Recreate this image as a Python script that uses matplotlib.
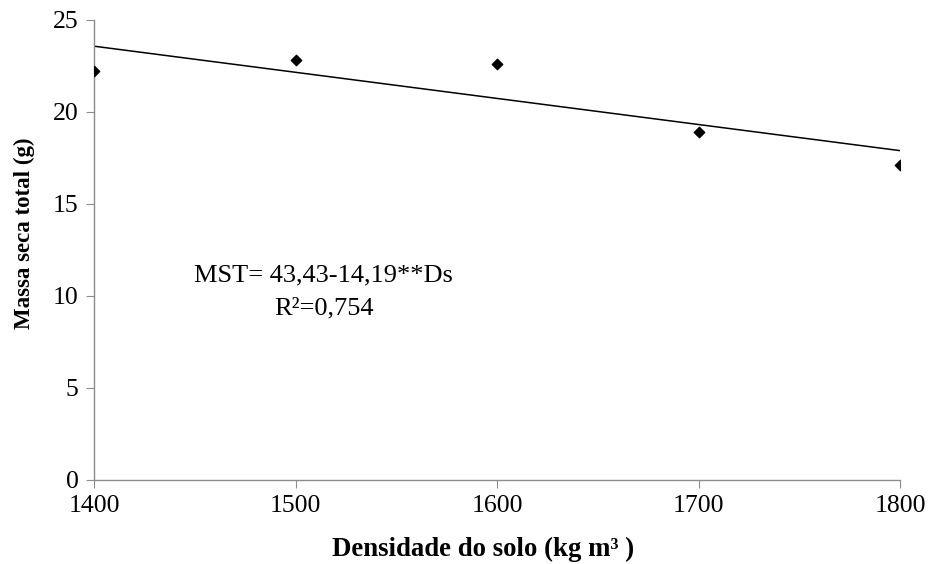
import numpy as np
import matplotlib
matplotlib.use("Agg")
import matplotlib.pyplot as plt

plt.rcParams["font.family"] = ["Liberation Serif", "DejaVu Serif"]

densidade = [1400, 1500, 1600, 1700, 1800]
massa_seca = [22.2, 22.8, 22.6, 18.9, 17.1]

# MST = 43,43 - 14,19 * Ds  (Ds in g cm-3)
intercept = 43.43
slope = -14.19

fig = plt.figure(figsize=(9.3, 5.64), dpi=100)
ax = fig.add_axes([0.101, 0.149, 0.867, 0.816])

xs = np.array([densidade[0], densidade[-1]])
ax.plot(xs, intercept + slope * xs / 1000.0, color="black", linewidth=1.1)

ax.scatter(densidade, massa_seca, marker="D", s=28, color="black", zorder=3)

ax.set_xlim(1400, 1800)
ax.set_ylim(0, 25)
ax.set_xticks([1400, 1500, 1600, 1700, 1800])
ax.set_yticks([0, 5, 10, 15, 20, 25])

for side in ["top", "right"]:
    ax.spines[side].set_visible(False)
for side in ["left", "bottom"]:
    ax.spines[side].set_color("#8c8c8c")
    ax.spines[side].set_linewidth(1.0)

ax.tick_params(axis="both", direction="out", length=6, color="#8c8c8c",
               labelsize=18.5, pad=5)

ax.set_xlabel("Densidade do solo (kg m³ )", fontsize=19.3, fontweight="bold")
ax.xaxis.set_label_coords(0.483, -0.124)
ax.set_ylabel("Massa seca total (g)", fontsize=16.5, fontweight="bold")
ax.yaxis.set_label_coords(-0.073, 0.535)

ax.text(1514, 11.1, "MST= 43,43-14,19**Ds", fontsize=19, ha="center",
        va="center")
ax.text(1514, 9.3, "R²=0,754", fontsize=19, ha="center", va="center")

fig.savefig("out.png", dpi=100)
